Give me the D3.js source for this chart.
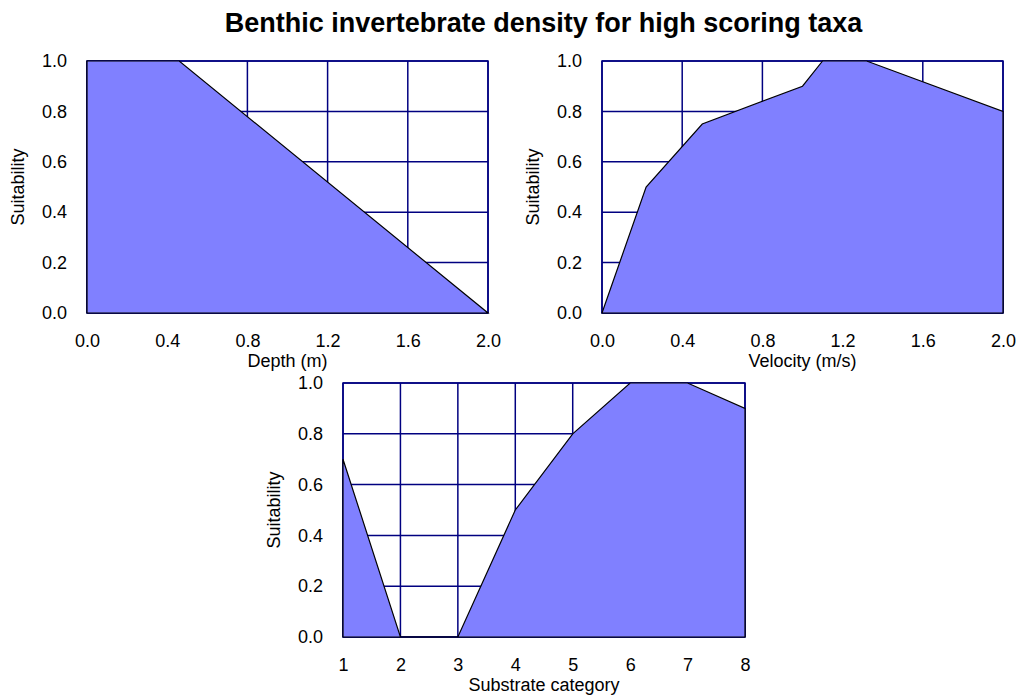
<!DOCTYPE html>
<html><head><meta charset="utf-8">
<script src="https://cdn.jsdelivr.net/npm/d3@7"></script>
<style>
html,body{margin:0;padding:0;background:#fff;}
text{font-family:"Liberation Sans",Arial,sans-serif;fill:#000;}
</style></head>
<body><svg id="chart" width="1017" height="695"></svg>
<script>
const titleText = "Benthic invertebrate density for high scoring taxa";
const yLabel = "Suitability";
const yTicks = [0, 0.2, 0.4, 0.6, 0.8, 1.0];

const depthX = [0, 0.46, 2.0];
const depthY = [1.0, 1.0, 0.0];
const depthTicks = [0, 0.4, 0.8, 1.2, 1.6, 2.0];

const velX = [0, 0.22, 0.5, 1.0, 1.1, 1.32, 2.0];
const velY = [0, 0.5, 0.75, 0.9, 1.0, 1.0, 0.8];
const velTicks = [0, 0.4, 0.8, 1.2, 1.6, 2.0];

const subX = [1, 2, 3, 4, 5, 6, 7, 8];
const subY = [0.7, 0, 0, 0.5, 0.8, 1.0, 1.0, 0.9];
const subTicks = [1, 2, 3, 4, 5, 6, 7, 8];

const svg = d3.select("#chart");
svg.append("text").attr("x", 543.5).attr("y", 31.5).attr("text-anchor", "middle")
  .attr("font-size", 27).attr("font-weight", "bold").text(titleText);

function panel(box, xs, ys, xDomain, xTicks, xFmt, xTitle) {
  const x = d3.scaleLinear().domain(xDomain).range([box.x0, box.x1]);
  const y = d3.scaleLinear().domain([0, 1]).range([box.y1, box.y0]);
  const g = svg.append("g");
  const navy = "#000080";
  g.selectAll(".vg").data(xTicks).join("line")
    .attr("x1", d => x(d)).attr("x2", d => x(d)).attr("y1", box.y0).attr("y2", box.y1)
    .attr("stroke", navy).attr("stroke-width", 1.5);
  g.selectAll(".hg").data(yTicks).join("line")
    .attr("x1", box.x0).attr("x2", box.x1).attr("y1", d => y(d)).attr("y2", d => y(d))
    .attr("stroke", navy).attr("stroke-width", 1.5);
  g.append("rect").attr("x", box.x0).attr("y", box.y0)
    .attr("width", box.x1 - box.x0).attr("height", box.y1 - box.y0)
    .attr("fill", "none").attr("stroke", navy).attr("stroke-width", 1.5);
  const pts = xs.map((v, i) => [v, ys[i]]);
  const area = d3.area().x(d => x(d[0])).y0(y(0)).y1(d => y(d[1]));
  g.append("path").datum(pts).attr("d", area)
    .attr("fill", "#8080FF").attr("stroke", "#000").attr("stroke-width", 1.2)
    .attr("stroke-linejoin", "miter");
  const xa = g.append("g").attr("transform", `translate(0,${box.y1})`)
    .call(d3.axisBottom(x).tickValues(xTicks).tickFormat(xFmt).tickSize(0).tickPadding(21));
  xa.select(".domain").remove();
  xa.selectAll("text").attr("font-size", 18).attr("font-family", null).attr("fill", "#000");
  const ya = g.append("g").attr("transform", `translate(${box.x0},0)`)
    .call(d3.axisLeft(y).tickValues(yTicks).tickFormat(d3.format(".1f")).tickSize(0).tickPadding(20));
  ya.select(".domain").remove();
  ya.selectAll("text").attr("font-size", 18).attr("font-family", null).attr("fill", "#000");
  g.append("text").attr("x", (box.x0 + box.x1) / 2).attr("y", box.y1 + 54)
    .attr("text-anchor", "middle").attr("font-size", 18).text(xTitle);
  g.append("text").attr("transform", `translate(${box.x0 - 63},${(box.y0 + box.y1) / 2}) rotate(-90)`)
    .attr("text-anchor", "middle").attr("font-size", 18).text(yLabel);
}

panel({x0: 87, x1: 488, y0: 61, y1: 313}, depthX, depthY, [0, 2], depthTicks, d3.format(".1f"), "Depth (m)");
panel({x0: 602, x1: 1003, y0: 61, y1: 313}, velX, velY, [0, 2], velTicks, d3.format(".1f"), "Velocity (m/s)");
panel({x0: 343, x1: 745, y0: 383, y1: 637}, subX, subY, [1, 8], subTicks, d3.format("d"), "Substrate category");
</script></body></html>
